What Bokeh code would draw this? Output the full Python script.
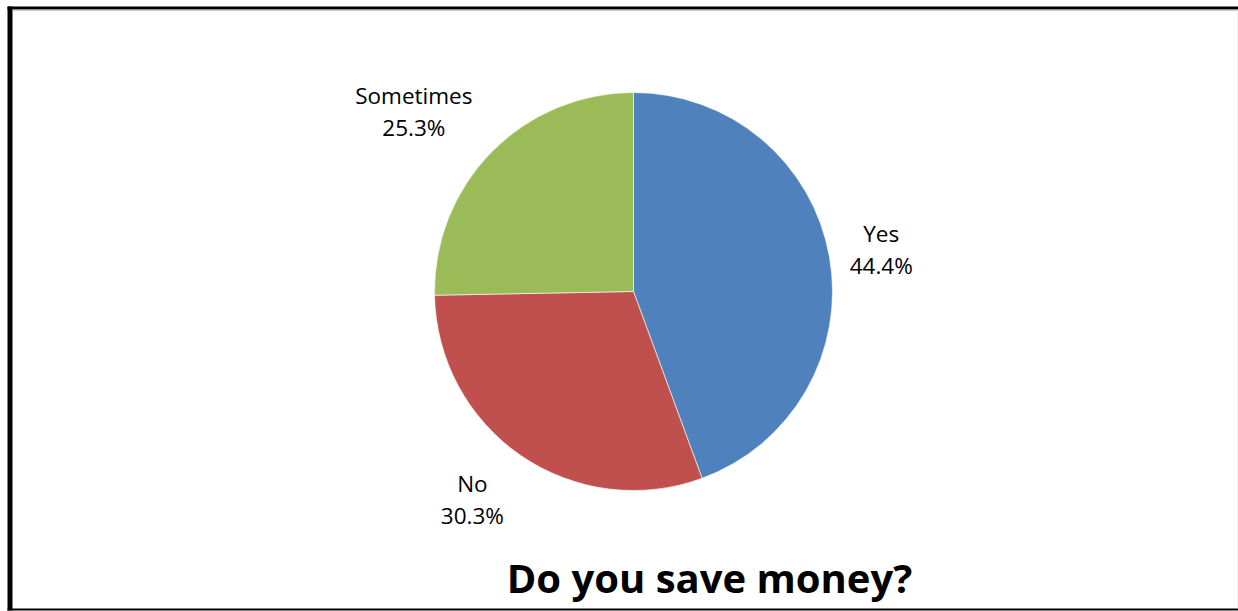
import math
from bokeh.plotting import figure
from bokeh.models import Range1d, BoxAnnotation, ColumnDataSource
from bokeh.core.properties import value
from bokeh.embed import file_html
from bokeh.resources import INLINE

# ---- data ----
categories = ["Yes", "No", "Sometimes"]
percents = [44.4, 30.3, 25.3]
colors = ["#4F81BD", "#C0504D", "#9BBB59"]
title_text = "Do you save money?"

# ---- layout / style ----
W, H = 1238, 611
CX, CY = 633, 320
R = 199
LABEL_R = 1.3 * R
LABEL_NUDGE = [(-7, -3), (-15, 6), (-35, -1)]
FONT = "Open Sans"
LABEL_SIZE = "22.5px"

p = figure(width=W, height=H, output_backend="svg", toolbar_location=None,
           x_range=Range1d(0, W), y_range=Range1d(0, H), min_border=0)
p.axis.visible = False
p.grid.visible = False
p.outline_line_color = None
p.background_fill_color = "white"
p.border_fill_color = "white"

total = sum(percents)
starts, ends, mids = [], [], []
cum = 0.0
for v in percents:
    s = math.pi / 2 - 2 * math.pi * cum / total
    cum += v
    e = math.pi / 2 - 2 * math.pi * cum / total
    starts.append(s)
    ends.append(e)
    mids.append((s + e) / 2)

src = ColumnDataSource(dict(start=starts, end=ends, color=colors,
                            x=[CX] * len(percents), y=[CY] * len(percents)))
p.wedge(x="x", y="y", radius=R, start_angle="start", end_angle="end",
        direction="clock", fill_color="color", line_color="white",
        line_alpha=0.6, line_width=1, source=src)

name_x, name_y, pct_x, pct_y, pct_txt = [], [], [], [], []
for cat, v, a, (nx, ny) in zip(categories, percents, mids, LABEL_NUDGE):
    lx = CX + LABEL_R * math.cos(a) + nx
    ly = CY + LABEL_R * math.sin(a) + ny
    name_x.append(lx)
    name_y.append(ly + 16)
    pct_x.append(lx)
    pct_y.append(ly - 16)
    pct_txt.append(f"{v:.1f}%")

p.text(x=name_x, y=name_y, text=categories, text_font=value(FONT),
       text_font_size=LABEL_SIZE, text_align="center", text_baseline="alphabetic",
       text_color="black")
p.text(x=pct_x, y=pct_y, text=pct_txt, text_font=value(FONT),
       text_font_size=LABEL_SIZE, text_align="center", text_baseline="alphabetic",
       text_color="black")

p.text(x=[709], y=[34], text=[title_text], text_font=value(FONT),
       text_font_size="40px", text_font_style="bold", text_align="center",
       text_baseline="alphabetic", text_color="black")

# frame (pixel positions measured from the top-left of the picture)
def frame_box(x0, x1, y0, y1, color):
    p.add_layout(BoxAnnotation(left=x0, right=x1, top=H - y0, bottom=H - y1,
                               left_units="screen", right_units="screen",
                               top_units="screen", bottom_units="screen",
                               fill_color=color, fill_alpha=1, line_alpha=0,
                               level="overlay"))

frame_box(7, 12, 6, 610, "black")          # left
frame_box(7, W, 6, 9, "black")             # top
frame_box(12, W, 9, 10, "#9a9a9a")         # top shadow
frame_box(7, W, 608, 610, "black")         # bottom
frame_box(W - 1, W, 9, 608, "#dddddd")     # right hairline

open("out.html", "w").write(file_html(p, INLINE))
